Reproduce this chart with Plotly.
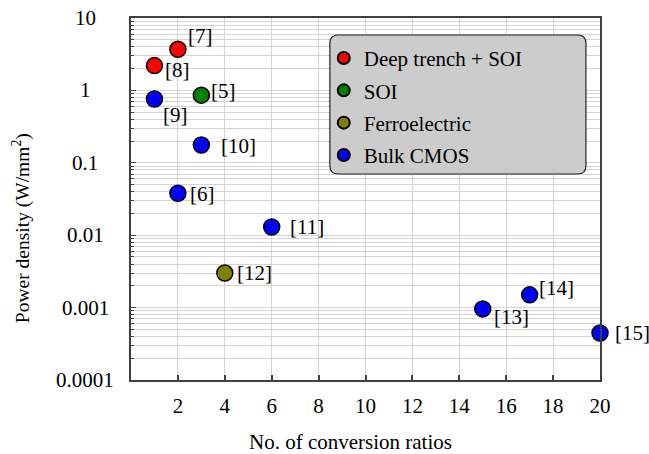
import math
import plotly.graph_objects as go

# ---- data ----
categories = ["Deep trench + SOI", "SOI", "Ferroelectric", "Bulk CMOS"]
colors = ["#ff0000", "#008000", "#808000", "#0000ff"]

dt_x = [2, 1]
dt_y = [3.7, 2.2]
dt_lab = ["[7]", "[8]"]

soi_x = [3]
soi_y = [0.86]
soi_lab = ["[5]"]

fe_x = [4]
fe_y = [0.003]
fe_lab = ["[12]"]

bulk_x = [1, 3, 2, 6, 15, 17, 20]
bulk_y = [0.76, 0.176, 0.038, 0.013, 0.00096, 0.0015, 0.000446]
bulk_lab = ["[9]", "[10]", "[6]", "[11]", "[13]", "[14]", "[15]"]

ytick_vals = [10, 1, 0.1, 0.01, 0.001, 0.0001]
ytick_text = ["10", "1", "0.1", "0.01", "0.001", "0.0001"]
xtick_vals = [2, 4, 6, 8, 10, 12, 14, 16, 18, 20]

# label offsets (pixels) for each reference label
label_offsets = {
    "[7]": (23, 13), "[8]": (23, -4), "[9]": (21, -16), "[5]": (22, 4),
    "[10]": (37, -1), "[6]": (25, -1), "[11]": (35, 0), "[12]": (30, 0),
    "[13]": (29, -8), "[14]": (27, 7), "[15]": (32, 0),
}

FONT = "Times New Roman, Liberation Serif, Tinos, serif"
FS = 21
fig = go.Figure()

series = [(dt_x, dt_y, dt_lab), (soi_x, soi_y, soi_lab), (fe_x, fe_y, fe_lab), (bulk_x, bulk_y, bulk_lab)]
for i, (xs, ys, labs) in enumerate(series):
    fig.add_trace(go.Scatter(
        x=xs, y=ys, mode="markers", name=categories[i],
        legendgroup=categories[i],
        marker=dict(size=16, color=colors[i], line=dict(color="black", width=1.5)),
        cliponaxis=False,
    ))
    for xv, yv, lb in zip(xs, ys, labs):
        dx, dy = label_offsets[lb]
        fig.add_annotation(x=xv, y=math.log10(yv), xref="x", yref="y", text=lb, showarrow=False,
                           xshift=dx, yshift=dy, font=dict(family=FONT, size=FS, color="black"))

# y tick labels (centered like reference)
for v, t in zip(ytick_vals, ytick_text):
    fig.add_annotation(x=-0.098, y=math.log10(v), xref="paper", yref="y", text=t, showarrow=False,
                       xanchor="center", yanchor="middle", font=dict(family=FONT, size=FS, color="black"))

# axis titles
fig.add_annotation(x=-0.232, y=0.42, xref="paper", yref="paper", text="Power density (W/mm<sup>2</sup>)",
                   textangle=-90, showarrow=False, xanchor="center", yanchor="middle",
                   font=dict(family=FONT, size=19.5, color="black"))
fig.add_annotation(x=0.467, y=-0.17, xref="paper", yref="paper", text="No. of conversion ratios",
                   showarrow=False, xanchor="center", yanchor="middle",
                   font=dict(family=FONT, size=FS, color="black"))

# rounded legend box
x0, x1, y0, y1 = 0.424, 0.970, 0.569, 0.953
rx, ry = 0.018, 0.023
path = (f"M {x0+rx},{y1} L {x1-rx},{y1} Q {x1},{y1} {x1},{y1-ry} L {x1},{y0+ry} "
        f"Q {x1},{y0} {x1-rx},{y0} L {x0+rx},{y0} Q {x0},{y0} {x0},{y0+ry} "
        f"L {x0},{y1-ry} Q {x0},{y1} {x0+rx},{y1} Z")
fig.add_shape(type="path", path=path, xref="paper", yref="paper",
              fillcolor="#cccccc", line=dict(color="#222222", width=1.2), layer="above")

fig.update_layout(
    width=649, height=454,
    margin=dict(l=131, r=49, t=18, b=74),
    paper_bgcolor="white", plot_bgcolor="white",
    font=dict(family=FONT, size=FS, color="black"),
    showlegend=True,
    legend=dict(x=0.411, y=0.945, xanchor="left", yanchor="top", bgcolor="rgba(0,0,0,0)",
                font=dict(family=FONT, size=FS, color="black"), tracegroupgap=2,
                traceorder="grouped", itemsizing="constant"),
)

fig.update_xaxes(
    range=[0, 20], tickvals=xtick_vals, showgrid=True, gridcolor="#d4d4d4", gridwidth=1,
    showline=True, linecolor="#404040", linewidth=1.5, mirror=True,
    ticks="inside", ticklen=5, tickcolor="#404040", tickwidth=1.5, ticklabelstandoff=6,
    tickfont=dict(family=FONT, size=FS, color="black"), zeroline=False,
)
fig.update_yaxes(
    type="log", range=[-4, 1], tickvals=ytick_vals, showticklabels=False,
    showgrid=True, gridcolor="#d4d4d4", gridwidth=1,
    showline=True, linecolor="#404040", linewidth=1.5, mirror=True,
    ticks="inside", ticklen=5, tickcolor="#404040", tickwidth=1.2,
    minor=dict(showgrid=True, gridcolor="#d4d4d4", gridwidth=1, ticks="inside", ticklen=3,
               tickcolor="#404040", dtick="D1"),
    zeroline=False,
)

fig.write_html("out.html")
